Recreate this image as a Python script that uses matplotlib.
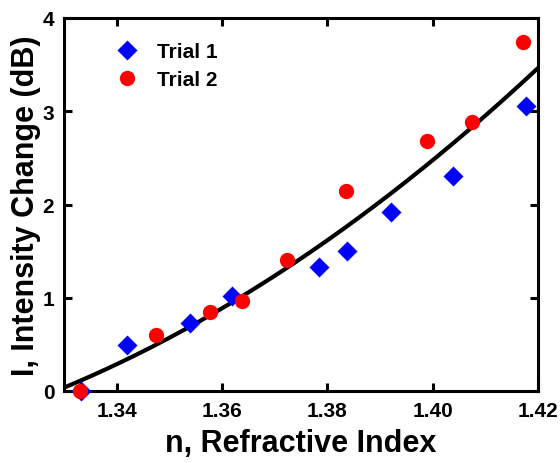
import numpy as np
import matplotlib
matplotlib.use("Agg")
import matplotlib.pyplot as plt

plt.rcParams['font.family'] = ['Liberation Sans', 'DejaVu Sans']
plt.rcParams['font.weight'] = 'bold'

trial1_n = [1.3333, 1.3419, 1.3539, 1.3619, 1.3785, 1.3838, 1.3920, 1.4038, 1.4177]
trial1_i = [0.00, 0.49, 0.73, 1.02, 1.33, 1.50, 1.92, 2.31, 3.06]
trial2_n = [1.3330, 1.3474, 1.3577, 1.3638, 1.3724, 1.3836, 1.3990, 1.4074, 1.4171]
trial2_i = [0.00, 0.60, 0.85, 0.96, 1.40, 2.14, 2.68, 2.88, 3.74]

x_ticks = [1.34, 1.36, 1.38, 1.40, 1.42]
x_tick_labels = ["1.34", "1.36", "1.38", "1.40", "1.42"]
y_ticks = [0, 1, 2, 3, 4]

fig = plt.figure(figsize=(5.6, 4.64), dpi=100)
ax = fig.add_axes([64/560, 72/464, 474/560, 373/464])

# quadratic fit to all data
all_n = np.array(trial1_n + trial2_n)
all_i = np.array(trial1_i + trial2_i)
coef = np.polyfit(all_n, all_i, 2)
xf = np.linspace(1.33, 1.42, 300)
ax.plot(xf, np.polyval(coef, xf), color='black', lw=3, zorder=2)

ax.plot(trial1_n, trial1_i, 'D', color='blue', ms=10, mec='none', label='Trial 1', zorder=3, clip_on=False)
ax.plot(trial2_n, trial2_i, 'o', color='red', ms=11, mec='none', label='Trial 2', zorder=3, clip_on=False)

ax.set_xlim(1.33, 1.42)
ax.set_ylim(0, 4)
ax.set_xticks(x_ticks)
ax.set_xticklabels(x_tick_labels)
ax.set_yticks(y_ticks)
for s in ax.spines.values():
    s.set_linewidth(2.2)
ax.tick_params(direction='in', length=6, width=2.2, top=True, right=True,
               labelsize=15, pad=7)
for lab in ax.get_xticklabels() + ax.get_yticklabels():
    lab.set_fontweight('bold')

ax.set_xlabel('n, Refractive Index', fontsize=22, fontweight='bold', labelpad=6)
ax.set_ylabel('I, Intensity Change (dB)', fontsize=22, fontweight='bold', labelpad=1)

leg = ax.legend(loc='upper left', frameon=False, fontsize=15, handletextpad=0.45,
                bbox_to_anchor=(0.0886, 0.936), borderaxespad=0, borderpad=0,
                labelspacing=0.45, numpoints=1)

fig.savefig('out.png', dpi=100)
